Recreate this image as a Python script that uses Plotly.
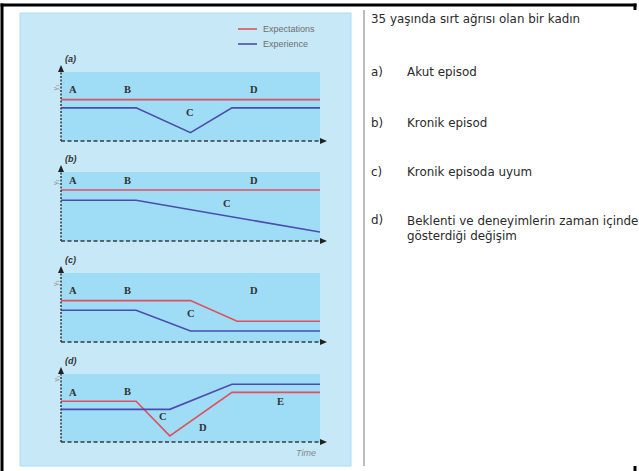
import plotly.graph_objects as go

W, H = 639, 471

# ---------------- data ----------------
panel_labels = ["(a)", "(b)", "(c)", "(d)"]
series_names = ["Expectations", "Experience"]

# panel (a) - acute episode
a_exp_x = [0, 10]
a_exp_y = [6.0, 6.0]
a_eng_x = [0, 2.9, 5.0, 6.6, 10]
a_eng_y = [4.8, 4.8, 1.2, 4.8, 4.8]

# panel (b) - chronic episode
b_exp_x = [0, 10]
b_exp_y = [7.4, 7.4]
b_eng_x = [0, 2.9, 10]
b_eng_y = [5.9, 5.9, 1.3]

# panel (c) - adaptation to chronic episode
c_exp_x = [0, 5.0, 6.8, 10]
c_exp_y = [6.0, 6.0, 3.0, 3.0]
c_eng_x = [0, 2.9, 5.0, 10]
c_eng_y = [4.6, 4.6, 1.6, 1.6]

# panel (d) - change of expectations and experience over time
d_exp_x = [0, 2.9, 4.2, 6.6, 10]
d_exp_y = [6.0, 6.0, 0.9, 7.3, 7.3]
d_eng_x = [0, 4.2, 6.6, 10]
d_eng_y = [4.8, 4.8, 8.5, 8.5]

a_letters = ["A", "B", "C", "D"]
a_letter_x = [0.46, 2.55, 4.98, 7.45]
a_letter_y = [7.4, 7.4, 4.2, 7.4]
b_letters = ["A", "B", "C", "D"]
b_letter_x = [0.46, 2.55, 6.4, 7.45]
b_letter_y = [8.7, 8.7, 5.4, 8.7]
c_letters = ["A", "B", "C", "D"]
c_letter_x = [0.46, 2.55, 5.0, 7.45]
c_letter_y = [7.4, 7.4, 4.1, 7.4]
d_letters = ["A", "B", "C", "D", "E"]
d_letter_x = [0.46, 2.55, 3.94, 5.48, 8.46]
d_letter_y = [7.35, 7.5, 3.8, 2.2, 6.0]

title_text = "35 yaşında sırt ağrısı olan bir kadın"
item_keys = ["a)", "b)", "c)", "d)"]
item_texts = ["Akut episod", "Kronik episod", "Kronik episoda uyum",
              "Beklenti ve deneyimlerin zaman içinde<br>gösterdiği değişim"]
x_title = "Time"
y_title = "y₁"

# ---------------- style ----------------
RED = "#e0505e"
BLUE = "#4b4bb0"
LIGHT = "#c6e8f7"
DARK = "#9fdcf5"
AX = "#3a3a3a"


def px(x):
    return x / W


def py(y):
    return 1 - y / H


panels = [
    (a_exp_x, a_exp_y, a_eng_x, a_eng_y, a_letters, a_letter_x, a_letter_y),
    (b_exp_x, b_exp_y, b_eng_x, b_eng_y, b_letters, b_letter_x, b_letter_y),
    (c_exp_x, c_exp_y, c_eng_x, c_eng_y, c_letters, c_letter_x, c_letter_y),
    (d_exp_x, d_exp_y, d_eng_x, d_eng_y, d_letters, d_letter_x, d_letter_y),
]
tops = [72, 172, 273, 374]
bottoms = [141, 241, 342, 442]
LEFT, RIGHT = 61, 320

fig = go.Figure()
layout = {}
shapes = []
annotations = []

# outer light panel
shapes.append(dict(type="rect", xref="paper", yref="paper", layer="below",
                   x0=px(20), x1=px(351), y0=py(466), y1=py(13),
                   fillcolor=LIGHT, line=dict(color="#a8def4", width=1)))

for i, (ex, ey, gx, gy, letters, lx, ly) in enumerate(panels):
    n = "" if i == 0 else str(i + 1)
    xa, ya = "x" + n, "y" + n
    top, bot = tops[i], bottoms[i]
    # darker plot area
    shapes.append(dict(type="rect", xref="paper", yref="paper", layer="below",
                       x0=px(LEFT), x1=px(RIGHT), y0=py(bot), y1=py(top),
                       fillcolor=DARK, line=dict(width=0)))
    fig.add_trace(go.Scatter(x=ex, y=ey, mode="lines", xaxis=xa, yaxis=ya,
                             name=series_names[0], showlegend=False,
                             line=dict(color=RED, width=1.6), hoverinfo="skip"))
    fig.add_trace(go.Scatter(x=gx, y=gy, mode="lines", xaxis=xa, yaxis=ya,
                             name=series_names[1], showlegend=False,
                             line=dict(color=BLUE, width=1.6), hoverinfo="skip"))
    layout["xaxis" + n] = dict(domain=[px(LEFT), px(RIGHT)], range=[0, 10],
                               visible=False, anchor=ya, fixedrange=True)
    layout["yaxis" + n] = dict(domain=[py(bot), py(top)], range=[0, 10],
                               visible=False, anchor=xa, fixedrange=True)
    for t, x, y in zip(letters, lx, ly):
        annotations.append(dict(xref=xa, yref=ya, x=x, y=y, text="<b>" + t + "</b>",
                                showarrow=False,
                                font=dict(family="Liberation Serif", size=10.5, color="#333")))
    # axes: dotted y, dashed x, arrowheads
    shapes.append(dict(type="line", xref="paper", yref="paper",
                       x0=px(LEFT), x1=px(LEFT), y0=py(bot), y1=py(top - 1),
                       line=dict(color=AX, width=1.5, dash="2px,1.5px")))
    shapes.append(dict(type="line", xref="paper", yref="paper",
                       x0=px(LEFT), x1=px(RIGHT), y0=py(bot), y1=py(bot),
                       line=dict(color=AX, width=1.5, dash="4px,2.5px")))
    shapes.append(dict(type="path", xref="paper", yref="paper",
                       path=f"M {px(LEFT)},{py(top - 7)} L {px(LEFT - 3)},{py(top)} L {px(LEFT + 3)},{py(top)} Z",
                       fillcolor="#222", line=dict(width=0)))
    shapes.append(dict(type="path", xref="paper", yref="paper",
                       path=f"M {px(RIGHT + 7)},{py(bot)} L {px(RIGHT)},{py(bot - 3)} L {px(RIGHT)},{py(bot + 3)} Z",
                       fillcolor="#222", line=dict(width=0)))
    annotations.append(dict(xref="paper", yref="paper", x=px(LEFT + 2), y=py(top - 13),
                            xanchor="left", yanchor="middle", showarrow=False,
                            text="<b><i>" + panel_labels[i] + "</i></b>",
                            font=dict(family="Liberation Sans", size=9, color="#333")))
    annotations.append(dict(xref="paper", yref="paper", x=px(50), y=py(top + 10),
                            showarrow=False, textangle=-90, text=y_title,
                            font=dict(family="Liberation Sans", size=7, color="#999")))

annotations.append(dict(xref="paper", yref="paper", x=px(306), y=py(453), showarrow=False,
                        yanchor="middle", text="<i>" + x_title + "</i>",
                        font=dict(family="Liberation Sans", size=9, color="#888")))

# legend (manual)
for j, (name, col) in enumerate(zip(series_names, [RED, BLUE])):
    yy = 29 + 15 * j
    shapes.append(dict(type="line", xref="paper", yref="paper",
                       x0=px(238), x1=px(257), y0=py(yy), y1=py(yy),
                       line=dict(color=col, width=1.6)))
    annotations.append(dict(xref="paper", yref="paper", x=px(261), y=py(yy),
                            xanchor="left", yanchor="middle", showarrow=False, text=name,
                            font=dict(family="Liberation Sans", size=9, color="#6f6f6f")))

# right-hand text
TF = dict(family="DejaVu Sans", size=11.9, color="#2a2a2a")
annotations.append(dict(xref="paper", yref="paper", x=px(369), y=py(19), xanchor="left",
                        yanchor="middle", showarrow=False, text=title_text, font=TF))
item_y = [72, 123, 172, 220]
for k, t, yy in zip(item_keys, item_texts, item_y):
    annotations.append(dict(xref="paper", yref="paper", x=px(369), y=py(yy), xanchor="left",
                            yanchor="middle", showarrow=False, text=k, font=TF))
    annotations.append(dict(xref="paper", yref="paper", x=px(405), y=py(yy), xanchor="left",
                            yanchor="top" if "<br>" in t else "middle",
                            yshift=8 if "<br>" in t else 0, align="left",
                            showarrow=False, text=t, font=TF))

# divider and black frame
shapes.append(dict(type="line", xref="paper", yref="paper", x0=px(364), x1=px(364),
                   y0=py(10), y1=py(466), line=dict(color="#bdbdbd", width=2)))
shapes.append(dict(type="line", xref="paper", yref="paper", x0=px(2), x1=px(2),
                   y0=py(3.5), y1=py(471), line=dict(color="black", width=3)))
shapes.append(dict(type="line", xref="paper", yref="paper", x0=px(0.5), x1=px(636.5),
                   y0=py(5), y1=py(5), line=dict(color="black", width=3)))
shapes.append(dict(type="line", xref="paper", yref="paper", x0=px(635), x1=px(635),
                   y0=py(3.5), y1=py(10), line=dict(color="black", width=3)))
shapes.append(dict(type="line", xref="paper", yref="paper", x0=px(635), x1=px(635),
                   y0=py(466), y1=py(471), line=dict(color="black", width=3)))

fig.update_layout(
    width=W, height=H,
    margin=dict(l=0, r=0, t=0, b=0),
    paper_bgcolor="white",
    plot_bgcolor="rgba(0,0,0,0)",
    showlegend=False,
    shapes=shapes,
    annotations=annotations,
    **layout,
)

fig.write_html("out.html", config={"displayModeBar": False},
               post_script="document.body.style.margin='0';document.body.style.overflow='hidden';")
